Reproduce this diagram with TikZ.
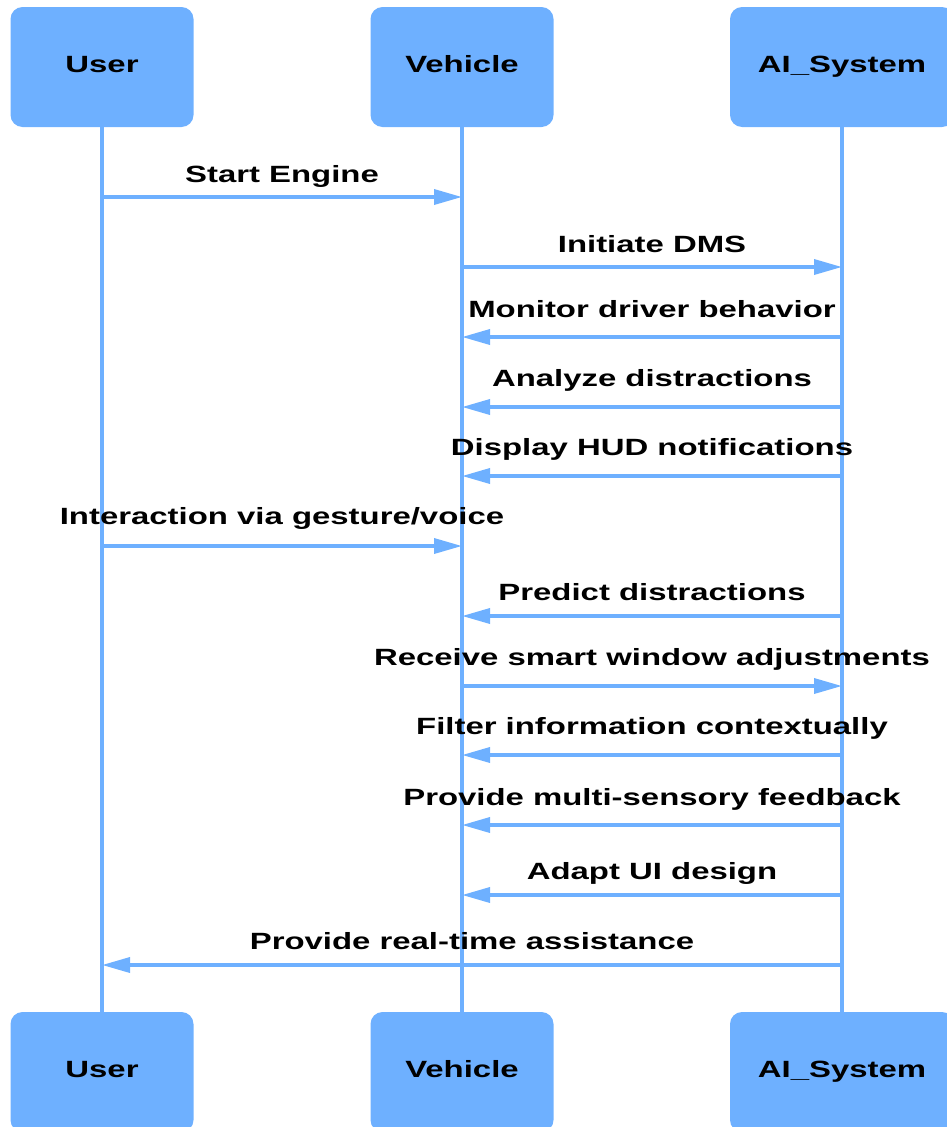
\documentclass[tikz,border=0pt]{standalone}
\usepackage{fontspec}
\setmainfont{Liberation Sans}[FakeStretch=1.4]
\usetikzlibrary{arrows.meta}
\definecolor{mmblue}{RGB}{110,176,255}

\begin{document}
\begin{tikzpicture}[x=1pt,y=-1pt,
  font=\fontsize{23.5}{28}\selectfont\bfseries,
  actor/.style = {shape=rectangle, rounded corners=12pt, fill=mmblue,
    minimum width=183pt, minimum height=120pt, inner sep=0pt,
    text height=17pt, text depth=7pt},
  life/.style = {draw=mmblue, line width=4pt},
  msg/.style = {draw=mmblue, line width=3.5pt,
    -{Triangle[length=28pt,width=15pt]}},
  msglabel/.style = {anchor=base, inner sep=0pt}]
  \useasboundingbox (0,0) rectangle (947,1127);
  % participants
  \node[actor] (user) at (102,67) {User};
  \node[actor] (vehicle) at (462,67) {Vehicle};
  \node[actor, minimum width=224pt] (ai) at (842,67) {AI\_System};
  \node[actor] (userEnd) at (102,1072) {User};
  \node[actor] (vehicleEnd) at (462,1072) {Vehicle};
  \node[actor, minimum width=224pt] (aiEnd) at (842,1072) {AI\_System};
  % lifelines
  \draw[life] (user) -- (userEnd);
  \draw[life] (vehicle) -- (vehicleEnd);
  \draw[life] (ai) -- (aiEnd);
  % messages
  \foreach \a/\b/\y/\off/\t in {
      user/vehicle/197/15/{Start Engine},
      vehicle/ai/267/15/{Initiate DMS},
      ai/vehicle/337/20/{Monitor driver behavior},
      ai/vehicle/407/21/{Analyze distractions},
      ai/vehicle/476/21/{Display HUD notifications},
      user/vehicle/546/22/{Interaction via gesture/voice},
      ai/vehicle/616/16/{Predict distractions},
      vehicle/ai/686/21/{Receive smart window adjustments},
      ai/vehicle/755/21/{Filter information contextually},
      ai/vehicle/825/20/{Provide multi-sensory feedback},
      ai/vehicle/895/16/{Adapt UI design},
      ai/user/965/16/{Provide real-time assistance}}
    \draw[msg] (\a |- 0,\y) -- (\b |- 0,\y)
      node[midway, msglabel, yshift=\off pt] {\t};
\end{tikzpicture}
\end{document}
